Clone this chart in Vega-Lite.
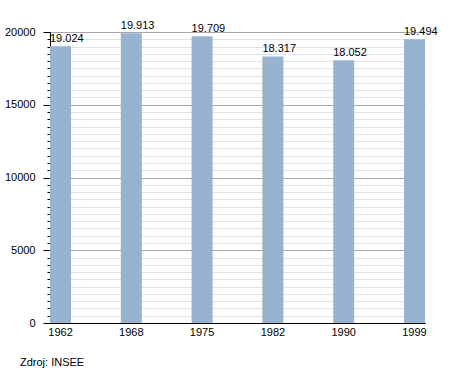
{
  "$schema": "https://vega.github.io/schema/vega-lite/v6.json",
  "width": 375,
  "height": 291,
  "autosize": {"type": "none"},
  "padding": {"left": 50, "top": 32, "right": 30, "bottom": 50},
  "config": {
    "locale": {"number": {"decimal": ",", "thousands": ".", "grouping": [3], "currency": ["", ""]}},
    "view": {"stroke": null},
    "font": "Liberation Sans"
  },
  "data": {
    "values": [
      {"year": "1962", "population": 19024},
      {"year": "1968", "population": 19913},
      {"year": "1975", "population": 19709},
      {"year": "1982", "population": 18317},
      {"year": "1990", "population": 18052},
      {"year": "1999", "population": 19494}
    ]
  },
  "title": {
    "text": "Zdroj: INSEE",
    "orient": "bottom",
    "anchor": "start",
    "frame": "group",
    "dx": -30,
    "offset": 20,
    "fontSize": 11,
    "fontWeight": "normal",
    "color": "#000000",
    "font": "Liberation Sans"
  },
  "layer": [
    {
      "mark": {"type": "bar", "color": "#98b3cf"},
      "encoding": {
        "x": {
          "field": "year",
          "type": "ordinal",
          "scale": {"paddingInner": 0.703, "paddingOuter": 0},
          "axis": {
            "title": null,
            "labelAngle": 0,
            "ticks": false,
            "domainColor": "#000000",
            "labelColor": "#000000",
            "labelFontSize": 11,
            "labelPadding": 3,
            "grid": false
          }
        },
        "y": {
          "field": "population",
          "type": "quantitative",
          "scale": {"domain": [0, 20000], "nice": false},
          "axis": {
            "title": null,
            "values": [0,500,1000,1500,2000,2500,3000,3500,4000,4500,5000,5500,6000,6500,7000,7500,8000,8500,9000,9500,10000,10500,11000,11500,12000,12500,13000,13500,14000,14500,15000,15500,16000,16500,17000,17500,18000,18500,19000,19500,20000],
            "tickCount": 100,
            "format": "d",
            "labelExpr": "datum.value % 5000 === 0 ? datum.label : ''",
            "labelOverlap": false,
            "labelBound": false,
            "labelFlush": false,
            "labelFontSize": 11,
            "labelColor": "#000000",
            "labelPadding": 8,
            "domainColor": "#000000",
            "tickColor": "#000000",
            "tickSize": {"condition": {"test": "datum.value % 5000 === 0", "value": 7}, "value": 3},
            "grid": true,
            "gridColor": {"condition": {"test": "datum.value % 5000 === 0", "value": "#a8a8a8"}, "value": "#e2e2e2"},
            "gridWidth": 1
          }
        }
      }
    },
    {
      "mark": {"type": "text", "align": "left", "baseline": "bottom", "dy": -2, "fontSize": 11, "color": "#000000"},
      "encoding": {
        "x": {"field": "year", "type": "ordinal", "bandPosition": 0},
        "y": {"field": "population", "type": "quantitative"},
        "text": {"field": "population", "type": "quantitative", "format": ",d"}
      }
    }
  ]
}
